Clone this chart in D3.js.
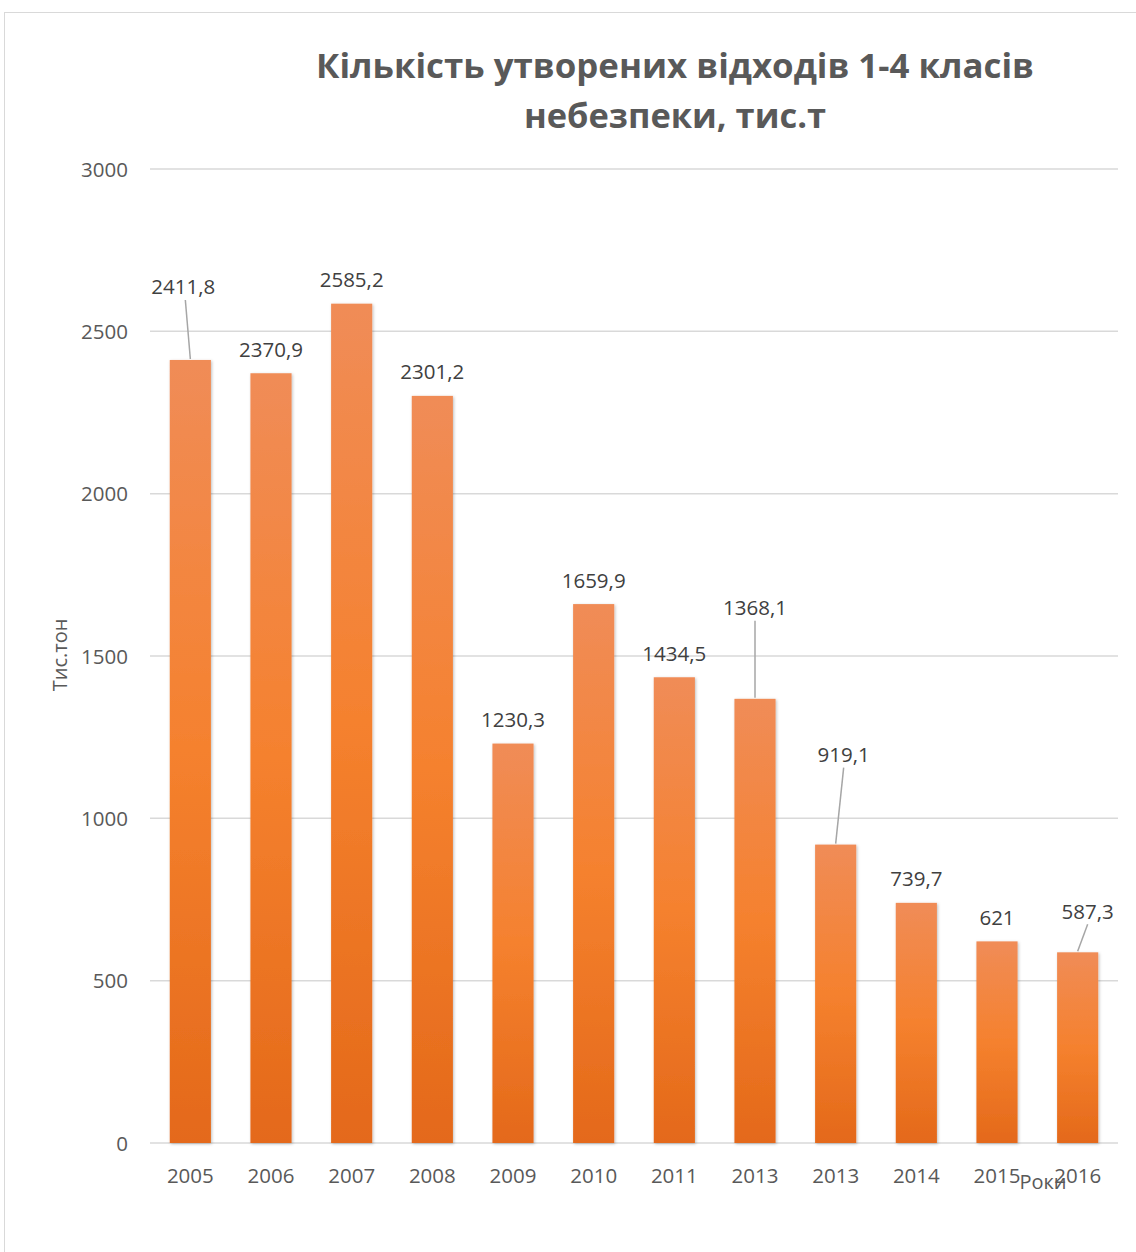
<!DOCTYPE html>
<html><head><meta charset="utf-8">
<script src="https://cdn.jsdelivr.net/npm/d3@7"></script>
<style>body{margin:0;background:#fff}svg{display:block}</style>
</head><body>
<svg id="c" width="1136" height="1252"></svg>
<script>
const categories = ["2005","2006","2007","2008","2009","2010","2011","2013","2013","2014","2015","2016"];
const values = [2411.8,2370.9,2585.2,2301.2,1230.3,1659.9,1434.5,1368.1,919.1,739.7,621,587.3];
const valueLabels = ["2411,8","2370,9","2585,2","2301,2","1230,3","1659,9","1434,5","1368,1","919,1","739,7","621","587,3"];
const yTicks = [0,500,1000,1500,2000,2500,3000];
const titleLines = ["Кількість утворених відходів 1-4 класів","небезпеки, тис.т"];
const yTitle = "Тис.тон";
const xTitle = "Роки";
// manual label displacement (layout), in px, with leader flag
const labelShift = [[-7,-49,1],[0,0,0],[0,0,0],[0,0,0],[0,0,0],[0,0,0],[0,0,0],[0,-67,1],[8,-66,1],[0,0,0],[0,0,0],[10,-17,1]];

const svg = d3.select("#c");
const grey = "#595959";
const font = "'Open Sans', sans-serif";

// outer chart border
svg.append("rect").attr("x",4.5).attr("y",12.5).attr("width",1300).attr("height",1400)
  .attr("fill","#fff").attr("stroke","#d9d9d9").attr("stroke-width",1);

const m = {left:150, right:1118, top:169, bottom:1143};
const x = d3.scaleBand().domain(d3.range(categories.length)).range([m.left,m.right]).paddingInner(0.49).paddingOuter(0.245);
const y = d3.scaleLinear().domain([0,3000]).range([m.bottom,m.top]);

const defs = svg.append("defs");
const g = defs.append("linearGradient").attr("id","barg").attr("x1",0).attr("y1",0).attr("x2",0).attr("y2",1);
g.append("stop").attr("offset","0%").attr("stop-color","#f08c57");
g.append("stop").attr("offset","50%").attr("stop-color","#f5812e");
g.append("stop").attr("offset","100%").attr("stop-color","#e4691a");
const f = defs.append("filter").attr("id","sh").attr("x","-20%").attr("y","-5%").attr("width","140%").attr("height","110%");
f.append("feDropShadow").attr("dx",1).attr("dy",1).attr("stdDeviation",1.5).attr("flood-color","#000").attr("flood-opacity",0.25);

// gridlines
svg.append("g").selectAll("line").data(yTicks).join("line")
  .attr("x1",m.left).attr("x2",m.right)
  .attr("y1",d=>y(d)).attr("y2",d=>y(d))
  .attr("stroke","#d9d9d9").attr("stroke-width",1.5);

// y axis labels
const yAxis = svg.append("g").attr("transform",`translate(${m.left-22},0)`)
  .call(d3.axisLeft(y).tickValues(yTicks).tickSize(0).tickPadding(0).tickFormat(d3.format("d")));
yAxis.select(".domain").remove();
yAxis.selectAll("text").attr("font-family",font).attr("font-size",20.5).attr("fill",grey).attr("dy","0.35em");

// bars
svg.append("g").selectAll("rect").data(values).join("rect")
  .attr("x",(d,i)=>x(i)).attr("width",x.bandwidth())
  .attr("y",d=>y(d)).attr("height",d=>y(0)-y(d))
  .attr("fill","url(#barg)").attr("filter","url(#sh)");

// x axis labels
const xAxis = svg.append("g").attr("transform",`translate(0,${m.bottom})`)
  .call(d3.axisBottom(x).tickSize(0).tickPadding(0).tickFormat(i=>categories[i]));
xAxis.select(".domain").remove();
xAxis.selectAll("text").attr("font-family",font).attr("font-size",20.5).attr("fill",grey).attr("dy",0).attr("y",40);

// data labels + leader lines
const lab = svg.append("g");
values.forEach((v,i)=>{
  const cx = x(i)+x.bandwidth()/2;
  const top = y(v);
  const [dx,dy,leader] = labelShift[i];
  const lx = cx+dx, lcy = top-24+dy;
  if(leader){
    lab.append("line").attr("x1",lx+ (i===0?2:0)).attr("y1",lcy+13).attr("x2",cx).attr("y2",top-1)
      .attr("stroke","#a6a6a6").attr("stroke-width",1.5);
  }
  lab.append("text").attr("x",lx).attr("y",lcy+7.5).attr("text-anchor","middle")
    .attr("font-family",font).attr("font-size",20.5).attr("fill","#404040").text(valueLabels[i]);
});

// titles
svg.append("g").selectAll("text").data(titleLines).join("text")
  .attr("x",675).attr("y",(d,i)=>78+i*50).attr("text-anchor","middle")
  .attr("font-family",font).attr("font-weight","bold").attr("font-size",34).attr("fill",grey)
  .attr("textLength",(d,i)=>i===0?718:302).attr("lengthAdjust","spacingAndGlyphs")
  .text(d=>d);

svg.append("text").attr("transform","translate(67,655) rotate(-90)").attr("text-anchor","middle")
  .attr("font-family",font).attr("font-size",20).attr("fill",grey).text(yTitle);
svg.append("text").attr("x",1043).attr("y",1189).attr("text-anchor","middle")
  .attr("font-family",font).attr("font-size",20).attr("fill",grey).text(xTitle);
</script>
</body></html>
